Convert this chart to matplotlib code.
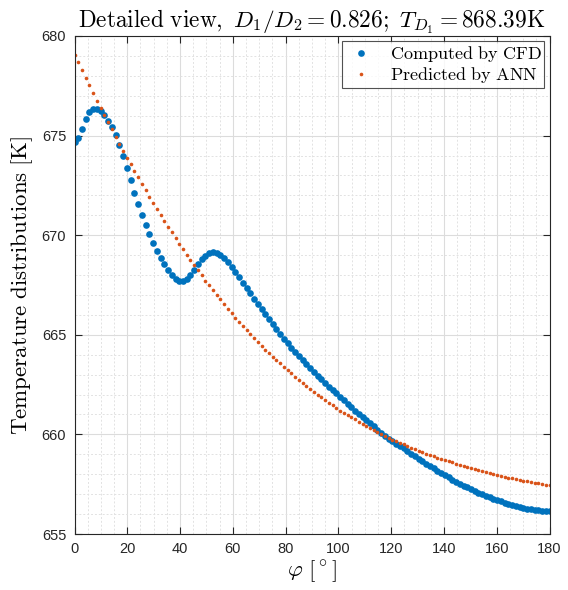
import numpy as np
import matplotlib
matplotlib.use("Agg")
import matplotlib.pyplot as plt
from matplotlib.ticker import MultipleLocator

plt.rcParams['mathtext.fontset'] = 'cm'
plt.rcParams['font.family'] = ['Liberation Sans', 'DejaVu Sans']

# sample angles (deg), 128 evenly spaced samples
phi = np.linspace(0, 180, 128)

# temperature computed by CFD [K]
t_cfd = [
    674.66, 674.88, 675.34, 675.82, 676.18, 676.35, 676.36, 676.24, 676.02, 675.74,
    675.42, 675.03, 674.54, 673.98, 673.38, 672.76, 672.14, 671.56, 671.02, 670.50,
    670.04, 669.61, 669.21, 668.86, 668.53, 668.25, 668.00, 667.80, 667.70, 667.69,
    667.79, 667.99, 668.25, 668.53, 668.79, 668.98, 669.10, 669.14, 669.11, 669.02,
    668.86, 668.65, 668.40, 668.15, 667.89, 667.62, 667.35, 667.08, 666.81, 666.54,
    666.28, 666.02, 665.77, 665.52, 665.28, 665.04, 664.81, 664.58, 664.36, 664.14,
    663.93, 663.72, 663.52, 663.32, 663.13, 662.94, 662.76, 662.58, 662.40, 662.23,
    662.06, 661.89, 661.72, 661.54, 661.36, 661.20, 661.04, 660.88, 660.72, 660.57,
    660.42, 660.22, 660.07, 659.93, 659.79, 659.66, 659.54, 659.43, 659.30, 659.17,
    659.04, 658.91, 658.78, 658.65, 658.53, 658.41, 658.29, 658.17, 658.06, 657.95,
    657.84, 657.73, 657.63, 657.53, 657.43, 657.34, 657.25, 657.16, 657.08, 657.00,
    656.92, 656.85, 656.78, 656.71, 656.64, 656.57, 656.51, 656.45, 656.40, 656.35,
    656.31, 656.27, 656.24, 656.21, 656.19, 656.18, 656.17, 656.17,
]

# temperature predicted by ANN [K]
t_ann = [
    679.05, 678.67, 678.28, 677.90, 677.52, 677.14, 676.75, 676.37, 676.02, 675.66,
    675.31, 674.95, 674.60, 674.24, 673.89, 673.56, 673.23, 672.91, 672.58, 672.26,
    671.93, 671.60, 671.31, 671.02, 670.72, 670.43, 670.14, 669.85, 669.56, 669.30,
    669.03, 668.77, 668.51, 668.25, 667.99, 667.72, 667.48, 667.25, 667.01, 666.78,
    666.55, 666.31, 666.08, 665.86, 665.66, 665.45, 665.25, 665.04, 664.84, 664.63,
    664.44, 664.26, 664.09, 663.91, 663.73, 663.56, 663.38, 663.21, 663.06, 662.90,
    662.75, 662.59, 662.43, 662.28, 662.13, 662.00, 661.86, 661.73, 661.59, 661.46,
    661.32, 661.20, 661.09, 660.97, 660.86, 660.75, 660.63, 660.52, 660.41, 660.32,
    660.22, 660.12, 660.03, 659.93, 659.83, 659.74, 659.66, 659.58, 659.50, 659.42,
    659.34, 659.26, 659.18, 659.11, 659.04, 658.98, 658.91, 658.84, 658.77, 658.71,
    658.65, 658.59, 658.53, 658.47, 658.41, 658.35, 658.29, 658.24, 658.19, 658.14,
    658.09, 658.04, 657.99, 657.95, 657.91, 657.87, 657.83, 657.79, 657.75, 657.71,
    657.67, 657.64, 657.60, 657.57, 657.54, 657.51, 657.47, 657.44,
]

blue = '#0072BD'
red = '#D95319'

fig = plt.figure(figsize=(5.68, 5.90), dpi=100)
ax = fig.add_axes([0.1312, 0.0949, 0.8363, 0.8441])

ax.plot(phi, t_cfd, linestyle='none', marker='o', markersize=4.8,
        markeredgewidth=0, color=blue, label=r'$\mathrm{Computed\ by\ CFD}$')
ax.plot(phi, t_ann, linestyle='none', marker='o', markersize=2.6,
        markeredgewidth=0, color=red, label=r'$\mathrm{Predicted\ by\ ANN}$')

ax.set_xlim(0, 180)
ax.set_ylim(655, 680)
ax.xaxis.set_major_locator(MultipleLocator(20))
ax.xaxis.set_minor_locator(MultipleLocator(5))
ax.yaxis.set_major_locator(MultipleLocator(5))
ax.yaxis.set_minor_locator(MultipleLocator(1))

ax.grid(which='major', color='#dcdcdc', linewidth=0.8, linestyle='-')
ax.grid(which='minor', color='#e2e2e2', linewidth=0.7, linestyle=(0, (2, 2)))
ax.set_axisbelow(True)

for s in ax.spines.values():
    s.set_color('#262626')
    s.set_linewidth(0.8)
ax.tick_params(which='major', direction='in', length=5, width=0.8,
               top=True, right=True, labelsize=10.5, colors='#262626', pad=6)
ax.tick_params(which='minor', length=0, top=True, right=True)

ax.set_title(r'$\mathrm{Detailed\ view,}\ D_1/D_2 = 0.826;\ T_{D_1} = 868.39\mathrm{K}$',
             fontsize=16.8, pad=5)
ax.set_xlabel(r'$\varphi\ [^\circ]$', fontsize=16.5, labelpad=1)
ax.set_ylabel(r'$\mathrm{Temperature\ distributions\ [K]}$', fontsize=16.5, labelpad=5)

leg = ax.legend(loc='upper right', fontsize=13, frameon=True, fancybox=False,
                borderaxespad=0.3, handletextpad=0.7, borderpad=0.15,
                labelspacing=0.05, markerscale=1.0, handlelength=1.8)
leg.get_frame().set_edgecolor('#262626')
leg.get_frame().set_linewidth(0.8)

fig.savefig('out.png', dpi=100)
